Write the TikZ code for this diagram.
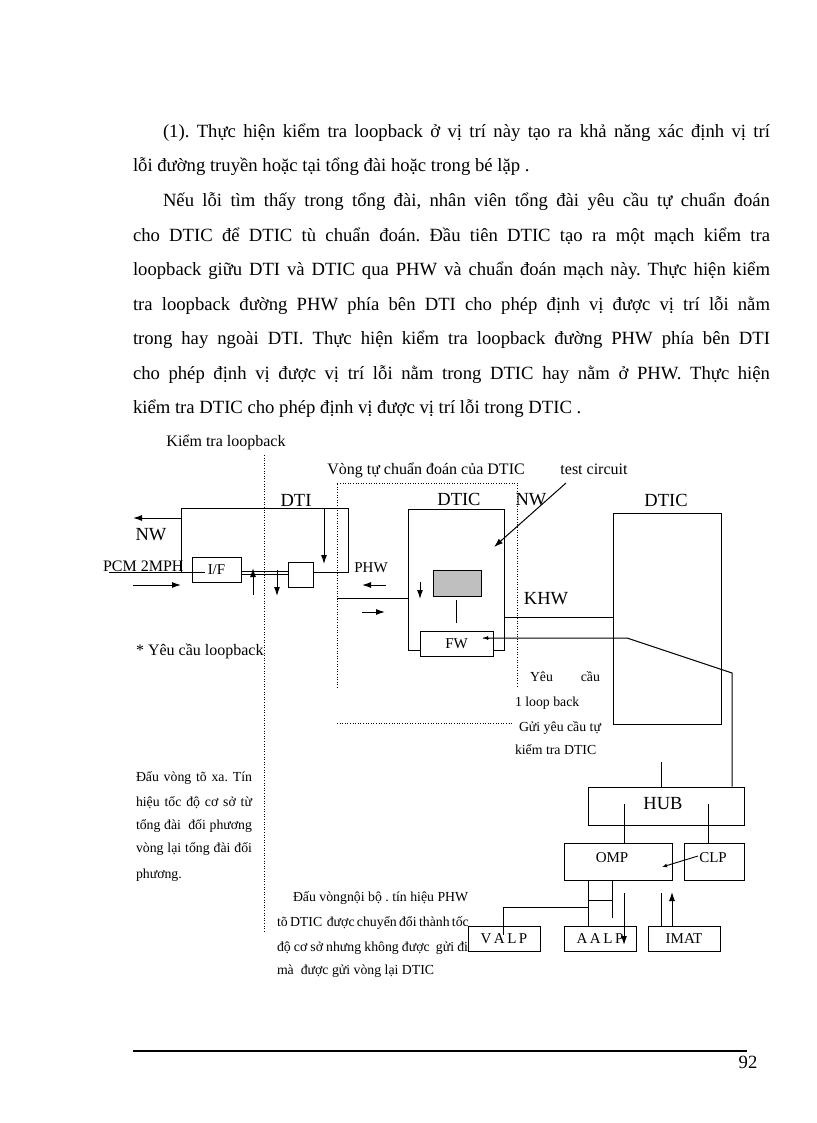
\documentclass[tikz,border=0pt]{standalone}
\usepackage{fontspec}
\setmainfont{Liberation Serif}
\usetikzlibrary{arrows.meta,calc}
\frenchspacing
\newcommand\fsP{\fontsize{18.67}{22}\selectfont}
\newcommand\fsL{\fontsize{18.5}{22}\selectfont}
\newcommand\fsM{\fontsize{16}{19}\selectfont}
\newcommand\fsB{\fontsize{15}{18}\selectfont}
\newcommand\fsS{\fontsize{13.8}{16}\selectfont}
\begin{document}
\begin{tikzpicture}[x=1pt,y=-1pt,
  ln/.style={line width=1pt},
  bx/.style={draw, line width=1pt, inner sep=0pt, fill=white, font=\fsB},
  hid/.style={inner sep=0pt, outer sep=0pt},
  txt/.style={inner sep=0pt, outer sep=0pt},
  dotl/.style={line width=0.9pt, dash pattern=on 1pt off 1.6pt},
  arr/.style={line width=1pt, -{Latex[length=9pt,width=6pt]}},
  sarr/.style={line width=0.9pt, -{Latex[length=5pt,width=4pt]}},
  ]
\useasboundingbox[fill=white] (0,0) rectangle (816,1123);

% ---------- paragraph ----------
\node[txt, anchor=base west, font=\fsP] (p1) at (163,138) {\makebox[607pt][s]{(1). Thực hiện kiểm tra loopback ở vị trí này tạo ra khả năng xác định vị trí}};
\node[txt, anchor=base west, font=\fsP] (p2) at (133,172) {lỗi đường truyền hoặc tại tổng đài hoặc trong bé lặp .};
\node[txt, anchor=base west, font=\fsP] (p3) at (163,207) {\makebox[607pt][s]{Nếu lỗi tìm thấy trong tổng đài, nhân viên tổng đài yêu cầu tự chuẩn đoán}};
\node[txt, anchor=base west, font=\fsP] (p4) at (133,241) {\makebox[637pt][s]{cho DTIC để DTIC tù chuẩn đoán. Đầu tiên DTIC tạo ra một mạch kiểm tra}};
\node[txt, anchor=base west, font=\fsP] (p5) at (133,275) {\makebox[637pt][s]{loopback giữu DTI và DTIC qua PHW và chuẩn đoán mạch này. Thực hiện kiểm}};
\node[txt, anchor=base west, font=\fsP] (p6) at (133,310) {\makebox[637pt][s]{tra loopback đường PHW phía bên DTI cho phép định vị được vị trí lỗi nằm}};
\node[txt, anchor=base west, font=\fsP] (p7) at (133,344) {\makebox[637pt][s]{trong hay ngoài DTI. Thực hiện kiểm tra loopback đường PHW phía bên DTI}};
\node[txt, anchor=base west, font=\fsP] (p8) at (133,379) {\makebox[637pt][s]{cho phép định vị được vị trí lỗi nằm trong DTIC hay nằm ở PHW. Thực hiện}};
\node[txt, anchor=base west, font=\fsP] (p9) at (133,413) {kiểm tra DTIC cho phép định vị được vị trí lỗi trong DTIC .};

% ---------- dotted guides ----------
\coordinate (d1t) at (264,455);
\coordinate (d1b) at (264,932);
\draw[dotl] (d1t) -- (d1b);
\coordinate (d2a) at (337,688);
\coordinate (d2b) at (337,483);
\coordinate (d2c) at (517,483);
\coordinate (d2d) at (517,686);
\draw[dotl] (d2a) -- (d2b) -- (d2c) -- (d2d);
\coordinate (d3a) at (337,723);
\coordinate (d3b) at (512,723);
\draw[dotl] (d3a) -- (d3b);

% ---------- labels ----------
\node[txt, anchor=base, font=\fsM] (lkt) at (226,446) {Kiểm tra loopback};
\node[txt, anchor=base, font=\fsM] (lvong) at (426,474) {Vòng tự chuẩn đoán của DTIC};
\node[txt, anchor=base, font=\fsM] (ltest) at (594,474) {test circuit};
\node[txt, anchor=base, font=\fsL] (ldti) at (296,506) {DTI};
\node[txt, anchor=base, font=\fsL] (ldtic) at (459,505) {DTIC};
\node[txt, anchor=base, font=\fsL] (lnw2) at (531,505) {NW};
\node[txt, anchor=base, font=\fsL] (ldtic2) at (666,506) {DTIC};
\node[txt, anchor=base, font=\fsL] (lnw) at (151,540) {NW};
\node[txt, anchor=base west, font=\fsM] (lpcm) at (103,571) {PCM 2MPH};
\node[txt, anchor=base, font=\fsB] (lphw) at (371,572) {PHW};
\node[txt, anchor=base, font=\fsL] (lkhw) at (546,604) {KHW};
\node[txt, anchor=base west, font=\fsM] (lyc) at (136,655) {* Yêu cầu loopback};

% ---------- DTI ----------
\node[hid, minimum width=167pt, minimum height=64pt] (dti) at (264.5,540) {};
\node[bx, minimum width=49pt, minimum height=25pt] (if) at (216.5,569.5) {};
\node[txt, font=\fsB] at (if.center) {I/F};
\node[bx, minimum width=25pt, minimum height=25pt] (sb) at (300.5,574.5) {};
\draw[ln] (if.west |- dti.south) -- (dti.south west) -- (dti.north west) -- (dti.north east) -- (dti.south east) -- (sb.east |- dti.south);
\coordinate (pcms) at (109,572);
\coordinate (pcme) at (205,572);
\draw[ln] (pcms) -- (pcme);
\draw[ln] ($(if.east)+(0,1.5)$) -- ($(sb.west |- if.east)+(0,1.5)$);
\draw[ln] ($(if.east)+(0,4.5)$) -- ($(sb.west |- if.east)+(0,4.5)$);
\coordinate (nwa) at (133,518);
\draw[arr] (dti.west |- nwa) -- (nwa);
\coordinate (pa1) at (133,585);
\coordinate (pa2) at (181,585);
\draw[arr] (pa1) -- (pa2);
\coordinate (a1s) at (324,509);
\coordinate (a1e) at (324,564);
\draw[arr] (a1s) -- (a1e);
\coordinate (a2s) at (253,595);
\coordinate (a2e) at (253,568);
\draw[arr] (a2s) -- (a2e);
\coordinate (a3s) at (277,570);
\coordinate (a3e) at (277,596);
\draw[arr] (a3s) -- (a3e);

% ---------- inner DTIC ----------
\node[hid, minimum width=96pt, minimum height=141pt] (dtic) at (456,579.5) {};
\node[bx, minimum width=73pt, minimum height=25pt] (fw) at (456.5,643.5) {FW};
\draw[ln] (fw.west |- dtic.south) -- (dtic.south west) -- (dtic.north west) -- (dtic.north east) -- (dtic.south east) -- (fw.east |- dtic.south);
\node[draw, line width=1pt, fill=gray!50, minimum width=48pt, minimum height=26pt, inner sep=0pt] (grey) at (457,583) {};
\coordinate (gl) at (456,600);
\coordinate (gf) at (456,623);
\draw[ln] (gl) -- (gf);
\coordinate (ia1) at (420,582);
\coordinate (ia2) at (420,599);
\draw[arr] (ia1) -- (ia2);
\coordinate (phws) at (337,598);
\draw[ln] (phws) -- (dtic.west |- phws);
\coordinate (pl1) at (386,585);
\coordinate (pl2) at (362,585);
\draw[arr] (pl1) -- (pl2);
\coordinate (pr1) at (362,612);
\coordinate (pr2) at (385,612);
\draw[arr] (pr1) -- (pr2);
\coordinate (tcs) at (566,483);
\coordinate (tce) at (494,547);
\draw[arr] (tcs) -- (tce);

% ---------- big DTIC ----------
\node[draw, line width=1pt, inner sep=0pt, minimum width=108pt, minimum height=211pt] (bdtic) at (667,618.5) {};
\coordinate (khw) at (504,617);
\draw[ln] (khw) -- (bdtic.west |- khw);

% ---------- requests text ----------
\node[txt, anchor=base west, font=\fsS] (y1) at (530,681) {\makebox[70pt][s]{Yêu cầu}};
\node[txt, anchor=base west, font=\fsS] (y2) at (515,706) {1 loop back};
\node[txt, anchor=base west, font=\fsS] (y3) at (519,731) {Gửi yêu cầu tự};
\node[txt, anchor=base west, font=\fsS] (y4) at (515,754) {kiểm tra DTIC};

% ---------- HUB etc ----------
\node[bx, minimum width=156pt, minimum height=38pt] (hub) at (666,806) {};
\node[txt, font=\fsL] at (663,804) {HUB};
\node[bx, minimum width=108pt, minimum height=37pt] (omp) at (618,861.5) {};
\node[txt, font=\fsB] at (612,858) {OMP};
\node[bx, minimum width=60pt, minimum height=37pt] (clp) at (714,861.5) {};
\node[txt, font=\fsB] at (713,858) {CLP};
\node[bx, minimum width=72pt, minimum height=25pt] (valp) at (504,938.5) {V\,A\,L\,P};
\node[bx, minimum width=72pt, minimum height=25pt] (aalp) at (600,938.5) {A\,A\,L\,P};
\node[bx, minimum width=72pt, minimum height=25pt] (imat) at (684,938.5) {IMAT};

% return line from HUB to FW
\coordinate (rv) at (732,673);
\coordinate (rk) at (627,638);
\coordinate (rfw) at (483,638);
\draw[ln] (hub.north -| rv) -- (rv) -- (rk) -- (rfw);
\draw[sarr] ($(rfw)+(6,0)$) -- (rfw);
\coordinate (bl) at (661,762);
\draw[ln] (bl) -- (hub.north -| bl);
\coordinate (h1) at (624,804);
\draw[ln] (h1) -- (omp.north -| h1);
\coordinate (h2) at (708,804);
\draw[ln] (h2) -- (clp.north -| h2);
\coordinate (ca) at (698,856);
\coordinate (cb) at (662,867);
\draw[sarr] (ca) -- (cb);
\coordinate (o1) at (588,880);
\draw[ln] (o1) -- (aalp.north -| o1);
\coordinate (o2) at (612,880);
\coordinate (o2b) at (612,918);
\draw[ln] (o2) -- (o2b);
\coordinate (o3a) at (588,900);
\coordinate (o3b) at (612,900);
\draw[ln] (o3a) -- (o3b);
\coordinate (v1) at (588,907);
\coordinate (v2) at (503,907);
\coordinate (v3) at (503,935);
\draw[ln] (v1) -- (v2) -- (v3);
\coordinate (da1) at (624,893);
\coordinate (da2) at (624,945);
\draw[arr] (da1) -- (da2);
\coordinate (im1) at (661,893);
\draw[ln] (im1) -- (imat.north -| im1);
\coordinate (ua2) at (672,892);
\draw[arr] (imat.north -| ua2) -- (ua2);

% ---------- side notes ----------
\node[txt, anchor=base west, font=\fsS] (s1) at (136,781) {\makebox[116pt][s]{Đấu vòng tõ xa. Tín}};
\node[txt, anchor=base west, font=\fsS] (s2) at (136,806) {\makebox[116pt][s]{hiệu tốc độ cơ sở từ}};
\node[txt, anchor=base west, font=\fsS] (s3) at (136,829) {\makebox[116pt][s]{tổng đài \ đối phương}};
\node[txt, anchor=base west, font=\fsS] (s4) at (136,852) {\makebox[116pt][s]{vòng lại tổng đài đối}};
\node[txt, anchor=base west, font=\fsS] (s5) at (136,878) {phương.};

\node[txt, anchor=base west, font=\fsS] (b1) at (293,901) {Đấu vòngnội bộ . tín hiệu PHW};
\node[txt, anchor=base west, font=\fsS] (b2) at (277,926) {\makebox[191pt][s]{tõ DTIC \ được chuyển đổi thành tốc}};
\node[txt, anchor=base west, font=\fsS] (b3) at (277,951) {\makebox[191pt][s]{độ cơ sở nhưng không được \ gửi đi}};
\node[txt, anchor=base west, font=\fsS] (b4) at (277,974) {mà \ được gửi vòng lại DTIC};

% ---------- footer ----------
\coordinate (f1) at (133,1051);
\coordinate (f2) at (747,1051);
\draw[line width=2pt] (f1) -- (f2);
\node[txt, anchor=base, font=\fsP] (pg) at (748,1068) {92};
\end{tikzpicture}
\end{document}
